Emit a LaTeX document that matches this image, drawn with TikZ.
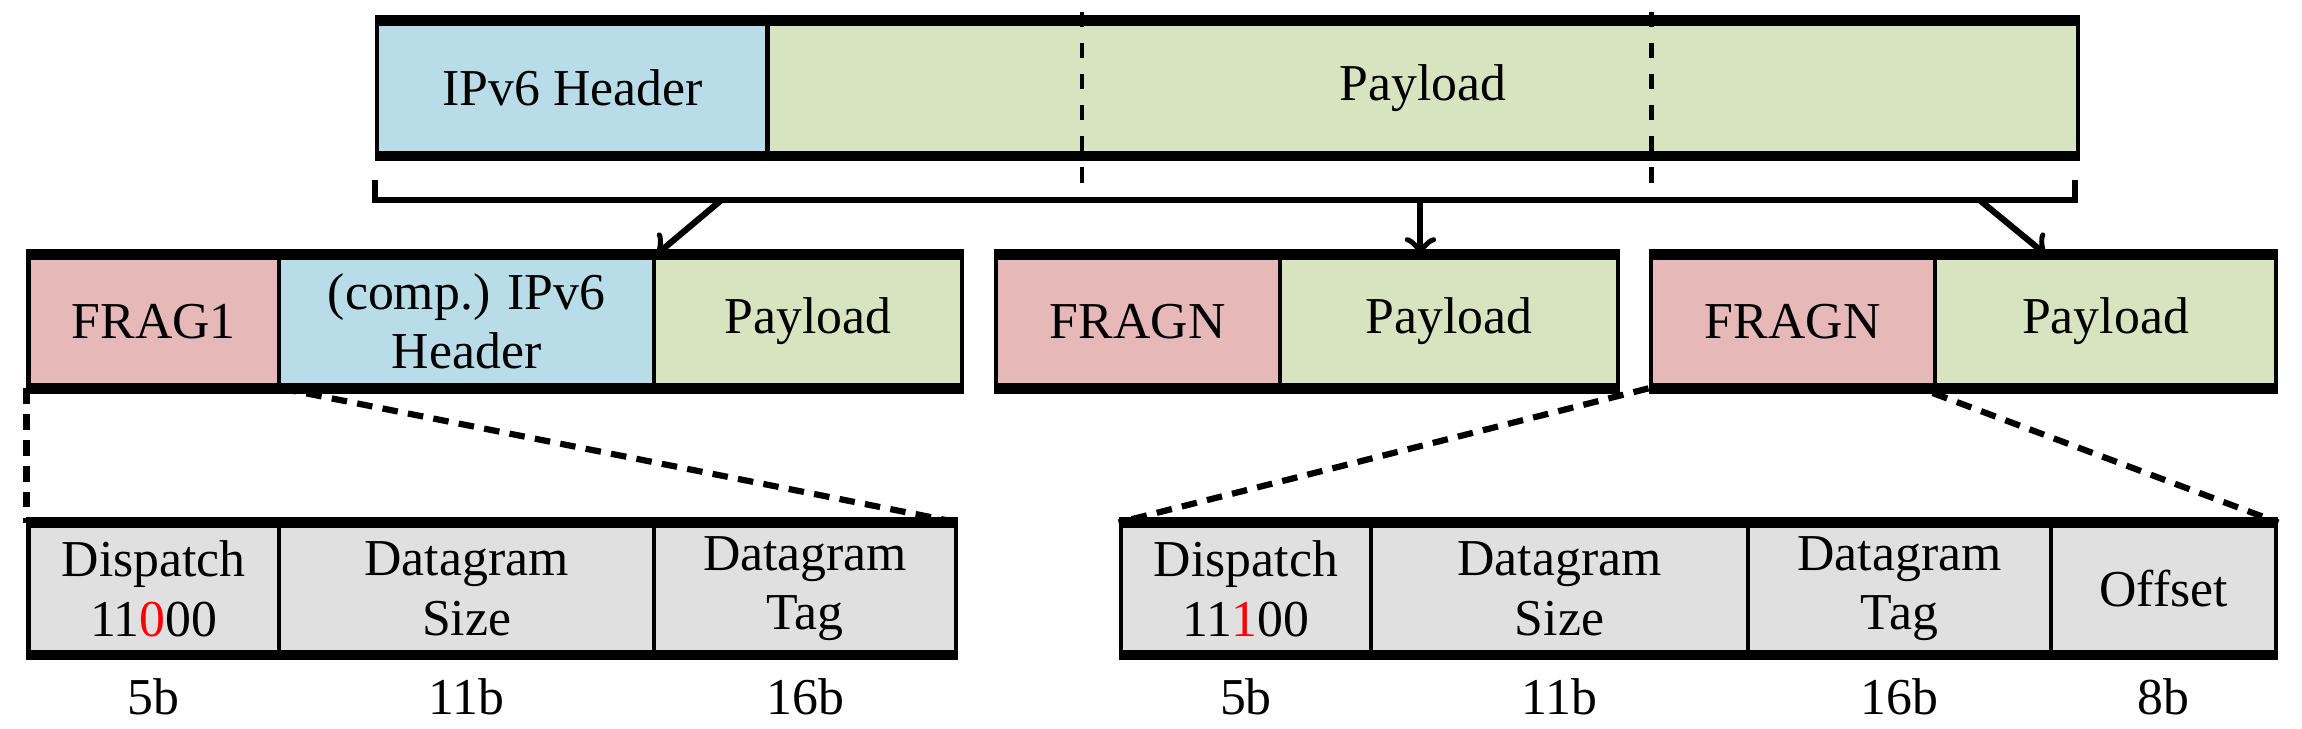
\documentclass[tikz,border=0pt]{standalone}
\usepackage{fontspec}
\setmainfont{Liberation Serif}
\usetikzlibrary{positioning}
\definecolor{hdrblue}{HTML}{B8DDE8}
\definecolor{paygreen}{HTML}{D8E4BF}
\definecolor{fragpink}{HTML}{E6B8B8}
\definecolor{fieldgray}{HTML}{E0E0E0}
\begin{document}
\begin{tikzpicture}[x=0.01cm,y=-0.01cm,
cell/.style={rectangle, draw=black, line width=0.8pt, inner sep=1pt, align=center, font=\fontsize{10}{11.5}\selectfont, anchor=north west},
edge/.style={line width=2pt},
cut/.style={dashed, line width=0.8pt},
zoomcut/.style={densely dashed, line width=1.2pt},
]
\useasboundingbox (0,0) rectangle (1564,495);
%Top packet
\node[cell, fill=hdrblue, minimum width=26.5mm, minimum height=8.9mm] (hdr) at (255,14) {IPv6 Header};
\node[cell, fill=paygreen, minimum width=89mm, minimum height=8.9mm] (pay) at (520,14) {Payload};
\draw[edge] (hdr.north west) -- (pay.north east);
\draw[edge] (hdr.south west) -- (pay.south east);
\coordinate (c1a) at (735,8);   \coordinate (c1b) at (735,130);
\coordinate (c2a) at (1122,8);  \coordinate (c2b) at (1122,130);
\draw[cut] (c1a) -- (c1b);
\draw[cut] (c2a) -- (c2b);
%Brace
\coordinate (bl) at (255,122); \coordinate (br) at (1410,122);
\coordinate (bbl) at (255,136); \coordinate (bbr) at (1410,136);
\draw[line width=1.2pt] (bl) -- (bbl) -- (bbr) -- (br);
\coordinate (s1) at (490,136); \coordinate (s2) at (965,136); \coordinate (s3) at (1345,136);
%Fragments
\node[cell, fill=fragpink, minimum width=17mm, minimum height=8.8mm] (frag1) at (18,173) {FRAG1};
\node[cell, fill=hdrblue, minimum width=25.5mm, minimum height=8.8mm] (chdr) at (188,173) {(comp.) IPv6\\Header};
\node[cell, fill=paygreen, minimum width=20.9mm, minimum height=8.8mm] (pay1) at (443,173) {Payload};
\node[cell, fill=fragpink, minimum width=19.3mm, minimum height=8.8mm] (fragn1) at (675,173) {FRAGN};
\node[cell, fill=paygreen, minimum width=23mm, minimum height=8.8mm] (pay2) at (868,173) {Payload};
\node[cell, fill=fragpink, minimum width=19.3mm, minimum height=8.8mm] (fragn2) at (1120,173) {FRAGN};
\node[cell, fill=paygreen, minimum width=23.2mm, minimum height=8.8mm] (pay3) at (1313,173) {Payload};
\foreach \a/\b in {frag1/pay1, fragn1/pay2, fragn2/pay3}{
  \draw[edge] (\a.north west) -- (\b.north east);
  \draw[edge] (\a.south west) -- (\b.south east);
}
%Arrows
\coordinate (t3) at (1390,173);
\draw[->, line width=1.2pt] (s1) -- (chdr.north east);
\draw[->, line width=1.2pt] (s2) -- (s2 |- pay2.north);
\draw[->, line width=1.2pt] (s3) -- (t3);
%Header fields
\node[cell, fill=fieldgray, minimum width=17mm, minimum height=8.7mm] (disp1) at (18,355) {Dispatch\\11\textcolor{red}{0}00};
\node[cell, fill=fieldgray, minimum width=25.5mm, minimum height=8.7mm] (size1) at (188,355) {Datagram\\Size};
\node[cell, fill=fieldgray, minimum width=20.5mm, minimum height=8.7mm] (tag1) at (443,355) {Datagram\\Tag};
\node[cell, fill=fieldgray, minimum width=17mm, minimum height=8.7mm] (disp2) at (760,355) {Dispatch\\11\textcolor{red}{1}00};
\node[cell, fill=fieldgray, minimum width=25.6mm, minimum height=8.7mm] (size2) at (930,355) {Datagram\\Size};
\node[cell, fill=fieldgray, minimum width=20.6mm, minimum height=8.7mm] (tag2) at (1186,355) {Datagram\\Tag};
\node[cell, fill=fieldgray, minimum width=15.3mm, minimum height=8.7mm] (off2) at (1392,355) {Offset};
\foreach \a/\b in {disp1/tag1, disp2/off2}{
  \draw[edge] (\a.north west) -- (\b.north east);
  \draw[edge] (\a.south west) -- (\b.south east);
}
%Bit widths
\foreach \n/\t in {disp1/5b, size1/11b, tag1/16b, disp2/5b, size2/11b, tag2/16b, off2/8b}
  \node[font=\fontsize{10}{11.5}\selectfont, inner sep=1pt, below=1.2mm of \n.south] {\t};
%Zoom lines
\coordinate (zs) at (1313,267);
\draw[zoomcut] (frag1.south west) -- (disp1.north west);
\draw[zoomcut] (frag1.south east) -- (tag1.north east);
\draw[zoomcut] (fragn2.south west) -- (disp2.north west);
\draw[zoomcut] (zs) -- (off2.north east);
\end{tikzpicture}
\end{document}
